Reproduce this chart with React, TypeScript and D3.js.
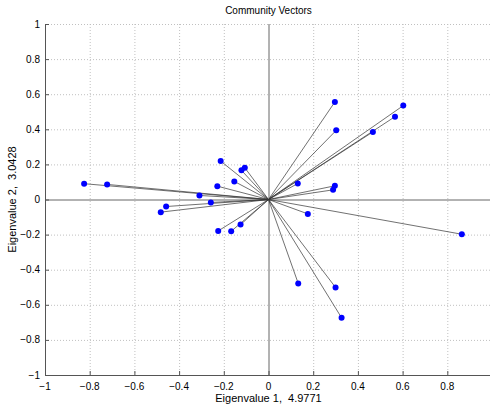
import { useEffect, useRef } from 'react'
import * as d3 from 'd3'

// community vector end points (eigenvector 1, eigenvector 2)
const ev1 = [
  0.297, 0.603, 0.566, 0.303, 0.467, 0.131, 0.297, 0.289, 0.176, 0.865, 0.133, 0.300, 0.327,
  -0.825, -0.722, -0.214, -0.106, -0.121, -0.153, -0.229, -0.309, -0.258, -0.458, -0.482, -0.225, -0.167, -0.125,
]
const ev2 = [
  0.556, 0.535, 0.472, 0.394, 0.385, 0.091, 0.078, 0.055, -0.082, -0.198, -0.478, -0.501, -0.674,
  0.090, 0.086, 0.219, 0.181, 0.166, 0.103, 0.076, 0.023, -0.017, -0.040, -0.072, -0.179, -0.181, -0.143,
]
const ticks = [-1, -0.8, -0.6, -0.4, -0.2, 0, 0.2, 0.4, 0.6, 0.8, 1]

const title = 'Community Vectors'
const xLabel = 'Eigenvalue 1,  4.9771'
const yLabel = 'Eigenvalue 2,  3.0428'

export default function App() {
  const svgRef = useRef<SVGSVGElement | null>(null)

  useEffect(() => {
    if (!svgRef.current) return
    const svg = d3.select(svgRef.current)
    svg.selectAll('*').remove()

    const width = 490
    const left = 45, right = 492, top = 24, bottom = 375

    const x = d3.scaleLinear().domain([-1, 1]).range([left, right])
    const y = d3.scaleLinear().domain([-1, 1]).range([bottom, top])
    const font = 'Helvetica, Arial, "Liberation Sans", sans-serif'

    // grid
    const grid = svg.append('g')
    grid.selectAll('.vg').data(ticks.filter(t => t !== -1 && t !== 0)).enter().append('line')
      .attr('x1', d => x(d) + 0.5).attr('x2', d => x(d) + 0.5)
      .attr('y1', top).attr('y2', bottom)
      .attr('stroke', '#c0c0c0').attr('stroke-dasharray', '1,2')
    grid.selectAll('.hg').data(ticks.filter(t => t !== -1 && t !== 0)).enter().append('line')
      .attr('y1', d => y(d) + 0.5).attr('y2', d => y(d) + 0.5)
      .attr('x1', left).attr('x2', width)
      .attr('stroke', '#c0c0c0').attr('stroke-dasharray', '1,2')

    // zero lines
    svg.append('line').attr('x1', x(0) + 0.5).attr('x2', x(0) + 0.5).attr('y1', top).attr('y2', bottom)
      .attr('stroke', '#666')
    svg.append('line').attr('x1', left).attr('x2', width).attr('y1', y(0) + 0.5).attr('y2', y(0) + 0.5)
      .attr('stroke', '#666')

    // axes (left and bottom only)
    svg.append('line').attr('x1', left + 0.5).attr('x2', left + 0.5).attr('y1', top).attr('y2', bottom)
      .attr('stroke', '#555')
    svg.append('line').attr('x1', left).attr('x2', width).attr('y1', bottom + 0.5).attr('y2', bottom + 0.5)
      .attr('stroke', '#555')

    // tick marks
    svg.selectAll('.xt').data(ticks).enter().append('line')
      .attr('x1', d => x(d) + 0.5).attr('x2', d => x(d) + 0.5)
      .attr('y1', bottom).attr('y2', bottom - 4).attr('stroke', '#555')
    svg.selectAll('.yt').data(ticks).enter().append('line')
      .attr('y1', d => y(d) + 0.5).attr('y2', d => y(d) + 0.5)
      .attr('x1', left).attr('x2', left + 4).attr('stroke', '#555')

    // tick labels
    svg.selectAll('.xl').data(ticks.filter(t => t !== 1)).enter().append('text')
      .attr('x', d => x(d)).attr('y', bottom + 15)
      .attr('text-anchor', 'middle').attr('font-family', font).attr('font-size', 10)
      .text(d => d3.format('~g')(d))
    svg.selectAll('.yl').data(ticks).enter().append('text')
      .attr('x', left - 5).attr('y', d => y(d) + 3.5)
      .attr('text-anchor', 'end').attr('font-family', font).attr('font-size', 10)
      .text(d => d3.format('~g')(d))

    // vectors
    const idx = d3.range(ev1.length)
    svg.selectAll('.vec').data(idx).enter().append('line')
      .attr('x1', x(0)).attr('y1', y(0))
      .attr('x2', i => x(ev1[i])).attr('y2', i => y(ev2[i]))
      .attr('stroke', '#333').attr('stroke-width', 0.7)
    svg.selectAll('.dot').data(idx).enter().append('circle')
      .attr('cx', i => x(ev1[i])).attr('cy', i => y(ev2[i])).attr('r', 3)
      .attr('fill', '#0000ff')

    // labels
    svg.append('text').attr('x', x(0)).attr('y', 14)
      .attr('text-anchor', 'middle').attr('font-family', font).attr('font-size', 10)
      .text(title)
    svg.append('text').attr('x', x(0)).attr('y', 402)
      .attr('text-anchor', 'middle').attr('font-family', font).attr('font-size', 11)
      .style('white-space', 'pre')
      .text(xLabel)
    svg.append('text').attr('transform', `translate(16,${y(0)}) rotate(-90)`)
      .attr('text-anchor', 'middle').attr('font-family', font).attr('font-size', 11)
      .style('white-space', 'pre')
      .text(yLabel)
  }, [])

  return (
    <svg ref={svgRef} width={490} height={406}
      style={{ position: 'absolute', left: 0, top: 0, background: '#fff' }} />
  )
}
